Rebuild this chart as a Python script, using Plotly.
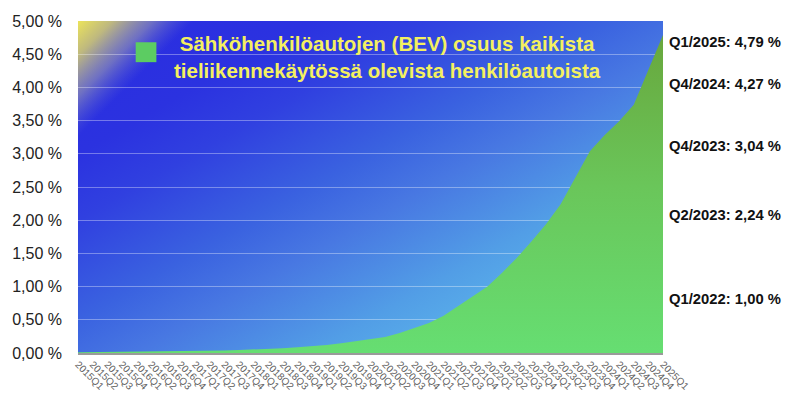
import base64
import plotly.graph_objects as go

# ---------------- data ----------------
quarters = [
    "2015Q1", "2015Q2", "2015Q3", "2015Q4",
    "2016Q1", "2016Q2", "2016Q3", "2016Q4",
    "2017Q1", "2017Q2", "2017Q3", "2017Q4",
    "2018Q1", "2018Q2", "2018Q3", "2018Q4",
    "2019Q1", "2019Q2", "2019Q3", "2019Q4",
    "2020Q1", "2020Q2", "2020Q3", "2020Q4",
    "2021Q1", "2021Q2", "2021Q3", "2021Q4",
    "2022Q1", "2022Q2", "2022Q3", "2022Q4",
    "2023Q1", "2023Q2", "2023Q3", "2023Q4",
    "2024Q1", "2024Q2", "2024Q3", "2024Q4",
    "2025Q1",
]
bev_share = [
    0.010, 0.012, 0.014, 0.016,
    0.018, 0.020, 0.023, 0.026,
    0.030, 0.034, 0.039, 0.045,
    0.052, 0.060, 0.070, 0.085,
    0.100, 0.120, 0.145, 0.175,
    0.205, 0.240, 0.300, 0.370,
    0.450, 0.560, 0.710, 0.860,
    1.00, 1.21, 1.43, 1.68,
    1.94, 2.24, 2.64, 3.04,
    3.28, 3.49, 3.74, 4.27,
    4.79,
]
series_name = "Sähköhenkilöautojen (BEV) osuus kaikista<br>tieliikennekäytössä olevista henkilöautoista"

callout_quarters = ["2025Q1", "2024Q4", "2023Q4", "2023Q2", "2022Q1"]
callout_names = ["Q1/2025", "Q4/2024", "Q4/2023", "Q2/2023", "Q1/2022"]
# pixel offsets of the callout texts relative to their values (styling only)
callout_yshift = [-7, -15, 5, -11, -12]

# ---------------- background gradient (SVG) ----------------
svg = """<svg xmlns='http://www.w3.org/2000/svg' width='588' height='332' viewBox='0 0 588 332' preserveAspectRatio='none'>
<defs>
<linearGradient id='g' x1='0' y1='0' x2='1' y2='1'>
<stop offset='0' stop-color='#2a2ce0'/>
<stop offset='0.2' stop-color='#2b32e0'/>
<stop offset='0.3' stop-color='#3040e0'/>
<stop offset='0.45' stop-color='#3a62e0'/>
<stop offset='0.55' stop-color='#4878e2'/>
<stop offset='0.7' stop-color='#529ee6'/>
<stop offset='0.8' stop-color='#5ab0ea'/>
<stop offset='1' stop-color='#64c4ee'/>
</linearGradient>
<linearGradient id='y' x1='0' y1='0' x2='58' y2='58' gradientUnits='userSpaceOnUse'>
<stop offset='0' stop-color='#ece45a' stop-opacity='1'/>
<stop offset='0.3' stop-color='#cfc874' stop-opacity='0.9'/>
<stop offset='0.65' stop-color='#9c9cb0' stop-opacity='0.6'/>
<stop offset='1' stop-color='#6a70d0' stop-opacity='0'/>
</linearGradient>
</defs>
<rect x='0' y='0' width='588' height='332' fill='url(#g)'/>
<rect x='0' y='0' width='588' height='332' fill='url(#y)'/>
</svg>"""
bg_uri = "data:image/svg+xml;base64," + base64.b64encode(svg.encode("utf-8")).decode("ascii")

# ---------------- figure ----------------
fig = go.Figure()
fig.add_trace(go.Scatter(
    x=quarters,
    y=bev_share,
    mode="lines",
    name=series_name,
    line=dict(width=0, color="#66d46c"),
    fill="tozeroy",
    fillgradient=dict(
        type="vertical",
        start=0,
        stop=5,
        colorscale=[[0, "#66de72"], [0.5, "#6ac65a"], [1, "#68a43a"]],
    ),
    showlegend=False,
    hoverinfo="x+y",
))

font_family = "Liberation Sans, Arial, Helvetica, sans-serif"

annotations = []
# legend-like title text
annotations.append(dict(
    xref="paper", yref="paper", x=0.529, y=0.893,
    xanchor="center", yanchor="middle",
    text="<b>" + series_name + "</b>",
    showarrow=False, align="center",
    font=dict(family=font_family, size=20.5, color="#f4f060"),
))
# right-hand callouts
for q, nm, ys in zip(callout_quarters, callout_names, callout_yshift):
    v = bev_share[quarters.index(q)]
    txt = f"{nm}: {v:.2f}".replace(".", ",") + " %"
    annotations.append(dict(
        xref="paper", yref="y", x=1.0, y=v, xshift=4, yshift=ys,
        xanchor="left", yanchor="middle",
        text="<b>" + txt + "</b>",
        showarrow=False,
        font=dict(family=font_family, size=14.8, color="#111111"),
    ))

fig.update_layout(
    width=800, height=405,
    margin=dict(l=75, r=137, t=21, b=52),
    paper_bgcolor="white",
    plot_bgcolor="rgba(0,0,0,0)",
    separators=", ",
    font=dict(family=font_family, color="#222222"),
    images=[dict(
        source=bg_uri, xref="paper", yref="paper",
        x=0, y=1, sizex=1, sizey=1, xanchor="left", yanchor="top",
        sizing="stretch", layer="below",
    )],
    shapes=[dict(
        type="rect", xref="paper", yref="paper",
        x0=0.0986, x1=0.134, y0=0.876, y1=0.936,
        fillcolor="#5ccc62", line=dict(width=0), layer="above",
    )],
    annotations=annotations,
    xaxis=dict(
        type="category",
        range=[0, len(quarters) - 1],
        tickmode="array", tickvals=quarters, ticktext=quarters,
        tickangle=45,
        tickfont=dict(size=10, color="#606060"),
        showgrid=False, zeroline=False,
        showline=True, linecolor="#9a9a9a", linewidth=1.5,
        ticks="",
    ),
    yaxis=dict(
        range=[0, 5],
        dtick=0.5, tick0=0,
        tickformat=".2f", ticksuffix=" %",
        tickfont=dict(size=16, color="#222222"),
        showgrid=True, gridcolor="rgba(255,255,255,0.35)", gridwidth=1,
        zeroline=False, showline=False,
        ticks="", ticklabelstandoff=15,
    ),
)

fig.write_html(
    "out.html",
    config={"displayModeBar": False},
    post_script="document.body.style.margin='0';document.body.style.padding='0';",
)
